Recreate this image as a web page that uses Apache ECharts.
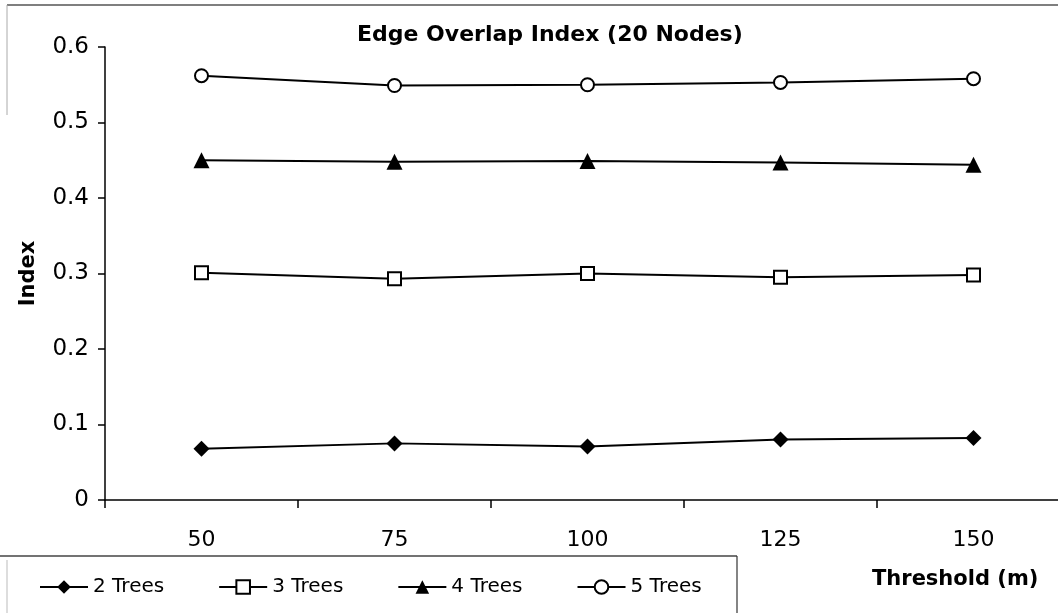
<!DOCTYPE html>
<html>
<head>
<meta charset="utf-8">
<script src="https://cdn.jsdelivr.net/npm/echarts@6/dist/echarts.min.js"></script>
<style>
  html, body { margin: 0; padding: 0; background: #fff; overflow: hidden; }
  /* the plot runs slightly past the right edge of the page */
  #chart { width: 1076px; height: 613px; }
</style>
</head>
<body>
<div id="chart"></div>
<script>
// Threshold values (m) along the x axis
const thresholds = ['50', '75', '100', '125', '150'];

// Edge overlap index per tree count
const trees2 = [0.068, 0.075, 0.071, 0.080, 0.082];
const trees3 = [0.301, 0.293, 0.300, 0.295, 0.298];
const trees4 = [0.450, 0.448, 0.449, 0.447, 0.444];
const trees5 = [0.562, 0.549, 0.550, 0.553, 0.558];

const seriesNames = ['2 Trees', '3 Trees', '4 Trees', '5 Trees'];

const FONT = '"DejaVu Sans", "Liberation Sans", Arial, sans-serif';

function lineSeries(name, data, symbol, size, filled) {
  return {
    name: name,
    type: 'line',
    data: data,
    symbol: symbol,
    symbolSize: size,
    showAllSymbol: true,
    lineStyle: { color: '#000', width: 2 },
    itemStyle: {
      color: filled ? '#000' : '#fff',
      borderColor: '#000',
      borderWidth: filled ? 0 : 2
    },
    emphasis: { disabled: true },
    z: 3
  };
}

const chart = echarts.init(document.getElementById('chart'), null, { renderer: 'canvas' });

chart.setOption({
  backgroundColor: '#fff',
  animation: false,
  title: {
    text: 'Edge Overlap Index (20 Nodes)',
    left: 352,
    top: 19,
    textStyle: { fontFamily: FONT, fontWeight: 'bold', fontSize: 22, color: '#000' }
  },
  grid: { left: 105, right: 6, top: 47, bottom: 113, containLabel: false },
  xAxis: {
    type: 'category',
    data: thresholds,
    boundaryGap: true,
    axisLine: { lineStyle: { color: '#000', width: 1.5 } },
    axisTick: { show: true, length: 8, lineStyle: { color: '#000', width: 1.5 } },
    axisLabel: { margin: 29, fontFamily: FONT, fontSize: 22, color: '#000' },
    splitLine: { show: false }
  },
  yAxis: {
    type: 'value',
    min: 0,
    max: 0.6,
    interval: 0.1,
    name: 'Index',
    nameLocation: 'middle',
    nameRotate: 90,
    nameGap: 66,
    nameTextStyle: { fontFamily: FONT, fontWeight: 'bold', fontSize: 21, color: '#000' },
    axisLine: { show: true, lineStyle: { color: '#000', width: 1.5 } },
    axisTick: { show: true, length: 7, lineStyle: { color: '#000', width: 1.5 } },
    axisLabel: {
      margin: 16,
      fontFamily: FONT,
      fontSize: 23,
      color: '#000',
      formatter: v => (v === 0 ? '0' : v.toFixed(1))
    },
    splitLine: { show: false }
  },
  legend: {
    data: seriesNames,
    left: 34,
    top: 572,
    itemWidth: 48,
    itemHeight: 17,
    itemGap: 54,
    lineStyle: { width: 2, color: '#000' },
    textStyle: { fontFamily: FONT, fontSize: 20, color: '#000' }
  },
  graphic: [
    // outer frame edges
    { type: 'line', shape: { x1: 7, y1: 5, x2: 1076, y2: 5 }, style: { stroke: '#555', lineWidth: 1.5 }, silent: true },
    { type: 'line', shape: { x1: 7, y1: 5, x2: 7, y2: 115 }, style: { stroke: '#aaa', lineWidth: 1 }, silent: true },
    // legend box
    { type: 'line', shape: { x1: 0, y1: 556, x2: 737, y2: 556 }, style: { stroke: '#444', lineWidth: 1.5 }, silent: true },
    { type: 'line', shape: { x1: 737, y1: 556, x2: 737, y2: 613 }, style: { stroke: '#333', lineWidth: 1.2 }, silent: true },
    { type: 'line', shape: { x1: 7, y1: 560, x2: 7, y2: 613 }, style: { stroke: '#bbb', lineWidth: 1 }, silent: true },
    // x axis title
    {
      type: 'text',
      left: 872,
      top: 569,
      style: { text: 'Threshold (m)', font: 'bold 21px ' + FONT, fill: '#000' },
      silent: true
    }
  ],
  series: [
    lineSeries(seriesNames[0], trees2, 'diamond', 16, true),
    lineSeries(seriesNames[1], trees3, 'rect', 13, false),
    lineSeries(seriesNames[2], trees4, 'triangle', 16, true),
    lineSeries(seriesNames[3], trees5, 'circle', 13, false)
  ]
});
</script>
</body>
</html>
